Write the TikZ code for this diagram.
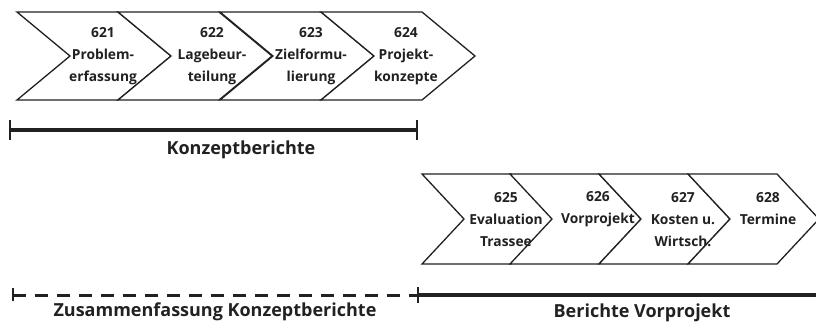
\documentclass[tikz,border=0pt]{standalone}
\usepackage{fontspec}
\setmainfont{Open Sans}
\definecolor{ink}{rgb}{0.13,0.13,0.13}
\begin{document}
\begin{tikzpicture}[x=1pt,y=-1pt,
  chev/.style={draw=ink,line width=1.3pt,line join=miter,fill=white},
  steplabel/.style={inner sep=0pt,align=center,text=ink,
    font=\bfseries\fontsize{13.8}{22}\selectfont},
  barlabel/.style={inner sep=0pt,text=ink,
    font=\bfseries\fontsize{18}{22}\selectfont},
  solidbar/.style={draw=ink,line width=3.6pt},
  dashbar/.style={draw=ink,line width=3pt,dash pattern=on 13pt off 9pt},
  tick/.style={draw=ink,line width=2.4pt}]
\useasboundingbox (0,0) rectangle (816,327);

% upper row of process steps (621-624)
\foreach \xo in {17,118,220,321}{
  \path[chev] (\xo,12) -- ++(101,0) -- ++(53,44) -- ++(-53,44)
              -- ++(-101,0) -- ++(53,-44) -- cycle;
}
\node[steplabel] (s621) at (103,56) {621\\Problem-\\erfassung};
\node[steplabel] (s622) at (212,56) {622\\Lagebeur-\\teilung};
\node[steplabel] (s623) at (311,56) {623\\Zielformu-\\lierung};
\node[steplabel] (s624) at (406,56) {624\\Projekt-\\konzepte};

% lower row of process steps (625-628)
\foreach \xo in {422,510,599,688}{
  \path[chev] (\xo,174) -- ++(89,0) -- ++(42,45) -- ++(-42,45)
              -- ++(-89,0) -- ++(42,-45) -- cycle;
}
\node[steplabel] (s625) at (506,220) {625\\Evaluation\\Trassee};
\node[steplabel] (s626) at (598,209) {626\\Vorprojekt};
\node[steplabel] (s627) at (683,220) {627\\Kosten u.\\Wirtsch.};
\node[steplabel] (s628) at (768,209) {628\\Termine};

% report spans
\coordinate (kA) at (10,130);
\coordinate (kB) at (417,130);
\draw[solidbar] (kA) -- (kB);
\draw[tick] ([yshift=-10pt]kA) -- ([yshift=10pt]kA);
\draw[tick] ([yshift=-10pt]kB) -- ([yshift=10pt]kB);
\node[barlabel] (lk) at (241,150) {Konzeptberichte};

\coordinate (zA) at (13,295);
\coordinate (zB) at (418,295);
\coordinate (vE) at (816,295);
\draw[dashbar] (zA) -- (zB);
\draw[solidbar] (zB) -- (vE);
\draw[tick] ([yshift=-6pt]zA) -- ([yshift=7pt]zA);
\draw[tick] ([yshift=-8pt]zB) -- ([yshift=8pt]zB);
\node[barlabel] (lz) at (215,312) {Zusammenfassung Konzeptberichte};
\node[barlabel] (lv) at (642,313) {Berichte Vorprojekt};
\end{tikzpicture}
\end{document}
